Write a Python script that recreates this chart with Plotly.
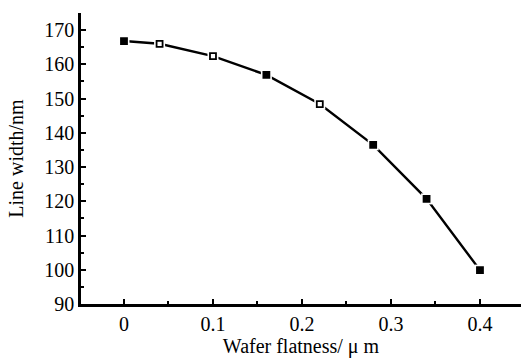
import plotly.graph_objects as go

flatness = [0, 0.04, 0.1, 0.16, 0.22, 0.28, 0.34, 0.4]
line_width = [166.8, 166.0, 162.4, 156.9, 148.4, 136.5, 120.7, 99.9]
marker_symbols = ["square", "square-open", "square-open", "square", "square-open", "square", "square", "square"]

fig = go.Figure()
fig.add_trace(go.Scatter(
    x=flatness, y=line_width, mode="lines",
    line=dict(color="black", width=2.4), showlegend=False, hoverinfo="skip",
))
fig.add_trace(go.Scatter(
    x=flatness, y=line_width, mode="markers",
    marker=dict(symbol="square", size=11, color="white", line=dict(width=0)),
    showlegend=False, hoverinfo="skip",
))
fig.add_trace(go.Scatter(
    x=flatness, y=line_width, mode="markers",
    marker=dict(symbol=marker_symbols, size=6, color="black", line=dict(color="black", width=1.8)),
    showlegend=False,
))

font = dict(family="Liberation Serif", size=20, color="black")
fig.update_layout(
    width=521, height=358,
    margin=dict(l=81, r=0, t=13, b=54),
    paper_bgcolor="white", plot_bgcolor="white",
    font=font,
)
fig.update_xaxes(
    range=[-0.0483, 0.4461], tickmode="array", tickvals=[0, 0.1, 0.2, 0.3, 0.4],
    ticktext=["0", "0.1", "0.2", "0.3", "0.4"],
    ticks="inside", ticklen=5, tickwidth=1.5, tickcolor="black",
    minor=dict(tickvals=[0.05, 0.15, 0.25, 0.35], ticks="inside", ticklen=3, tickcolor="black", tickwidth=1.5),
    showline=True, linecolor="black", linewidth=2.5, showgrid=False, zeroline=False,
    title=dict(text="Wafer flatness/ μ m", font=font, standoff=3),
    tickfont=font,
)
fig.update_yaxes(
    range=[90, 175], tickmode="array", tickvals=list(range(90, 171, 10)),
    ticks="inside", ticklen=5, tickwidth=1.5, tickcolor="black",
    minor=dict(tickvals=list(range(95, 176, 10)), ticks="inside", ticklen=3, tickcolor="black", tickwidth=1.5),
    showline=True, linecolor="black", linewidth=2.5, showgrid=False, zeroline=False,
    title=dict(text="Line width/nm", font=font, standoff=16),
    tickfont=font,
)
fig.write_html("out.html")
